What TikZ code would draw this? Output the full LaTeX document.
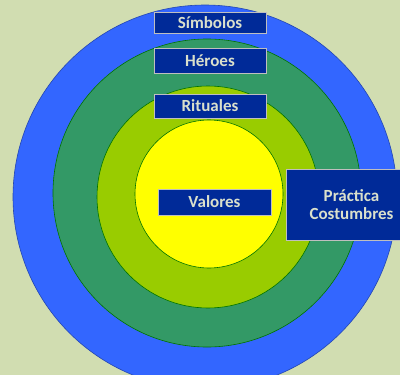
\documentclass[tikz,border=0pt]{standalone}
\usepackage{fontspec}
\setmainfont{Carlito}
\usepackage{tikz}
\usetikzlibrary{positioning}

\definecolor{fondo}{RGB}{209,221,177}
\definecolor{azul}{RGB}{51,102,255}
\definecolor{verde}{RGB}{51,153,102}
\definecolor{lima}{RGB}{153,204,0}
\definecolor{amarillo}{RGB}{255,255,0}
\definecolor{marino}{RGB}{0,42,152}
\definecolor{letra}{RGB}{218,224,204}

\tikzset{
  capa/.style={draw=black!55!green, line width=0.6pt},
  etiqueta/.style={draw=black!25, line width=0.5pt, fill=marino, text=letra,
    font=\bfseries\fontsize{17}{17.5}\selectfont, inner sep=0pt, align=center}
}

\begin{document}
\begin{tikzpicture}[x=1pt,y=-1pt]

% Fondo
\fill[fondo] (0,0) rectangle (400,375);
\useasboundingbox (0,0) rectangle (400,375);
\clip (0,0) rectangle (400,375);

% Capas de la cultura
\filldraw[capa,fill=azul,draw=azul!70!black] (205,197) circle (192);
\filldraw[capa,fill=verde] (207,193) circle (154);
\filldraw[capa,fill=lima] (208,197) circle (111);
\filldraw[capa,fill=amarillo] (209,194) circle (74);

% Etiquetas
\node[etiqueta, minimum width=112, minimum height=21] (simbolos) at (210,22.5) {Símbolos};
\node[etiqueta, minimum width=112, minimum height=25] (heroes) at (210,60.5) {Héroes};
\node[etiqueta, minimum width=112, minimum height=24] (rituales) at (210,106) {Rituales};
\node[etiqueta, minimum width=113, minimum height=26] (valores) at (214.5,202) {Valores};
\node[etiqueta, minimum width=131, minimum height=71] (practica) at (351.5,204.5) {Práctica\\Costumbres};

\end{tikzpicture}
\end{document}
